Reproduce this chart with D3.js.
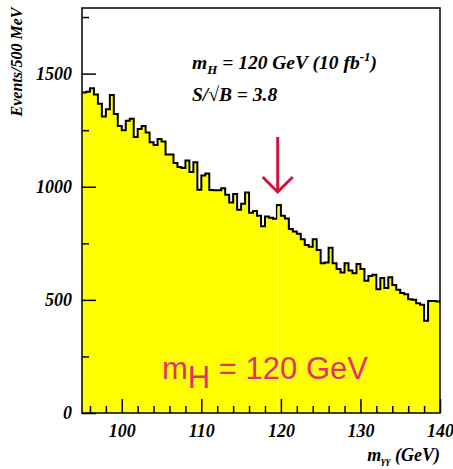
<!DOCTYPE html>
<html>
<head>
<meta charset="utf-8">
<script src="https://cdn.jsdelivr.net/npm/d3@7/dist/d3.min.js"></script>
<style>
  body { margin: 0; background: #fff; }
  text { font-family: "Liberation Serif", "Times New Roman", serif; font-weight: bold; font-style: italic; }
</style>
</head>
<body>
<svg id="container" width="453" height="469"></svg>
<script>
// bin low edges: 95 .. 139.5 GeV, 0.5 GeV wide
const binStart = 95;
const binWidth = 0.5;
const counts = [
  1417, 1420, 1435, 1408, 1367, 1311, 1343, 1405, 1322, 1268,
  1250, 1292, 1300, 1220, 1255, 1268, 1240, 1197, 1184, 1211,
  1200, 1142, 1142, 1105, 1087, 1083, 1116, 1065, 1108, 987,
  1050, 1058, 986, 984, 985, 993, 965, 930, 968, 898,
  925, 975, 885, 893, 872, 825, 869, 863, 858, 919,
  872, 860, 813, 802, 792, 768, 743, 735, 768, 720,
  662, 665, 730, 662, 636, 621, 662, 630, 618, 659,
  636, 585, 606, 611, 547, 597, 552, 600, 566, 545,
  530, 525, 503, 500, 485, 478, 408, 495, 495, 493
];
const xMajor = [100, 110, 120, 130, 140];
const xMinor = [96, 98, 102, 104, 106, 108, 112, 114, 116, 118, 122, 124, 126, 128, 132, 134, 136, 138];
const yMajor = [0, 500, 1000, 1500];
const yMinor = [250, 750, 1250, 1750];
const higgsMass = 119.6;

const svg = d3.select("#container");
const x = d3.scaleLinear().domain([95, 140]).range([82, 440]);
const y = d3.scaleLinear().domain([0, 1790]).range([413, 8]);

// histogram as a step path
const pts = [[x(binStart), y(0)]];
counts.forEach((c, i) => {
  const lo = binStart + i * binWidth;
  pts.push([x(lo), y(c)], [x(lo + binWidth), y(c)]);
});
pts.push([x(140), y(0)]);

svg.append("path")
  .attr("d", d3.line()(pts) + "Z")
  .attr("fill", "#ffff00")
  .attr("stroke", "none");

svg.append("path")
  .attr("d", d3.line()(pts.slice(1, -1)))
  .attr("fill", "none")
  .attr("stroke", "black")
  .attr("stroke-width", 2);

// thin white line at the signal position
svg.append("line")
  .attr("x1", x(higgsMass)).attr("x2", x(higgsMass))
  .attr("y1", y(counts[49]) + 2).attr("y2", y(0))
  .attr("stroke", "#fff")
  .attr("stroke-opacity", 0.8)
  .attr("stroke-width", 1);

// axes
svg.append("g")
  .attr("transform", `translate(0,${y(0)})`)
  .call(d3.axisBottom(x).tickValues(xMajor).tickSizeInner(-14).tickSizeOuter(0).tickPadding(11));
svg.append("g")
  .attr("transform", `translate(0,${y(0)})`)
  .call(d3.axisBottom(x).tickValues(xMinor).tickSizeInner(-7).tickSizeOuter(0).tickFormat(""));

svg.append("g")
  .attr("transform", `translate(${x(95)},0)`)
  .call(d3.axisLeft(y).tickValues(yMajor).tickFormat(d3.format("d"))
    .tickSizeInner(-14).tickSizeOuter(0).tickPadding(10));
svg.append("g")
  .attr("transform", `translate(${x(95)},0)`)
  .call(d3.axisLeft(y).tickValues(yMinor).tickSizeInner(-7).tickSizeOuter(0).tickFormat(""));

svg.selectAll(".domain").remove();
svg.selectAll(".tick line").attr("stroke", "black").attr("stroke-width", 1.5);
svg.selectAll(".tick text")
  .attr("font-family", "Liberation Serif, Times New Roman, serif")
  .attr("font-size", 18)
  .attr("fill", "black");

// frame
svg.append("rect")
  .attr("x", x(95)).attr("y", y(1790))
  .attr("width", x(140) - x(95)).attr("height", y(0) - y(1790))
  .attr("fill", "none")
  .attr("stroke", "black")
  .attr("stroke-width", 1.5);

// axis titles
svg.append("text")
  .attr("transform", "translate(22,62) rotate(-90)")
  .attr("text-anchor", "middle")
  .attr("font-size", 16)
  .text("Events/500 MeV");

const xt = svg.append("text")
  .attr("x", 440).attr("y", 461)
  .attr("text-anchor", "end")
  .attr("font-size", 18);
xt.append("tspan").text("m");
xt.append("tspan").attr("font-size", 11).attr("dy", 3).text("γγ");
xt.append("tspan").attr("dy", -3).text(" (GeV)");

// annotations
const t1 = svg.append("text").attr("x", 192).attr("y", 69).attr("font-size", 19.5);
t1.append("tspan").text("m");
t1.append("tspan").attr("font-size", 13).attr("dy", 5).text("H");
t1.append("tspan").attr("dy", -5).text(" = 120 GeV (10 fb");
t1.append("tspan").attr("font-size", 13).attr("dy", -8).text("-1");
t1.append("tspan").attr("dy", 8).text(")");

svg.append("text").attr("x", 192).attr("y", 101).attr("font-size", 19.5).text("S/√B = 3.8");

// arrow
const arrowColor = "#d3123c";
const ax = x(higgsMass);
svg.append("line")
  .attr("x1", ax).attr("x2", ax).attr("y1", 137).attr("y2", 192)
  .attr("stroke", arrowColor).attr("stroke-width", 3);
svg.append("path")
  .attr("d", `M${ax - 15},${177} L${ax},${192} L${ax + 15},${177}`)
  .attr("fill", "none").attr("stroke", arrowColor).attr("stroke-width", 3);

// big label
const big = svg.append("text")
  .attr("x", 162).attr("y", 379)
  .style("font-family", "'Liberation Sans', Arial, sans-serif")
  .style("font-style", "normal")
  .style("font-weight", "normal")
  .style("font-size", "31px")
  .attr("fill", "#e2336f");
big.append("tspan").text("m");
big.append("tspan").attr("dy", 9).text("H");
big.append("tspan").attr("dy", -9).text(" = 120 GeV");
</script>
</body>
</html>
